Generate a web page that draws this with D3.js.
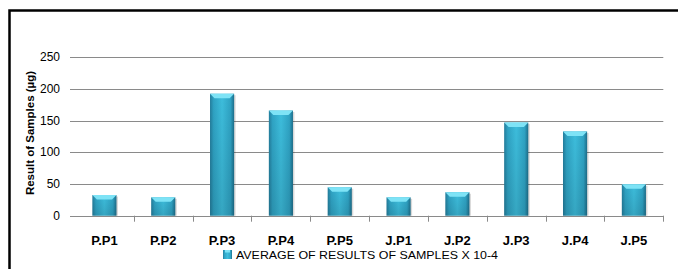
<!DOCTYPE html>
<html>
<head>
<meta charset="utf-8">
<script src="https://cdn.jsdelivr.net/npm/d3@7"></script>
<style>
  body { margin: 0; background: #fff; }
  text { font-family: "Liberation Sans", Arial, sans-serif; fill: #000; }
</style>
</head>
<body>
<div id="chart"></div>
<script>
// data
let categories = ["P.P1", "P.P2", "P.P3", "P.P4", "P.P5", "J.P1", "J.P2", "J.P3", "J.P4", "J.P5"];
let values = [32.6, 29, 192.5, 166, 44.8, 29, 37, 147, 133, 49.5];
let yTicks = [0, 50, 100, 150, 200, 250];
let seriesName = "AVERAGE OF RESULTS OF SAMPLES X 10-4";
let yTitle = "Result of Samples (\u00b5g)";

const W = 678, H = 269;

let svg = d3.select("#chart").append("svg")
    .attr("width", W)
    .attr("height", H);

let defs = svg.append("defs");
let grad = defs.append("linearGradient").attr("id", "barGrad")
    .attr("x1", "0").attr("x2", "1").attr("y1", "0").attr("y2", "0");
grad.append("stop").attr("offset", "0").attr("stop-color", "#237d9c");
grad.append("stop").attr("offset", "0.15").attr("stop-color", "#2fa3c4");
grad.append("stop").attr("offset", "0.5").attr("stop-color", "#3dbddc");
grad.append("stop").attr("offset", "0.85").attr("stop-color", "#2fa3c4");
grad.append("stop").attr("offset", "1").attr("stop-color", "#1d6f8c");

let vgrad = defs.append("linearGradient").attr("id", "barShade")
    .attr("x1", "0").attr("x2", "0").attr("y1", "0").attr("y2", "1");
vgrad.append("stop").attr("offset", "0").attr("stop-color", "#000").attr("stop-opacity", 0);
vgrad.append("stop").attr("offset", "1").attr("stop-color", "#000").attr("stop-opacity", 0.12);

// frame
svg.append("rect")
    .attr("x", 9.5).attr("y", 10.5)
    .attr("width", 700).attr("height", 300)
    .attr("fill", "none")
    .attr("stroke", "#000")
    .attr("stroke-width", 2.5);

let x = d3.scaleBand()
    .domain(categories)
    .range([75, 663.3])
    .paddingInner(0.59)
    .paddingOuter(0.295);

let y = d3.scaleLinear()
    .domain([0, 250])
    .range([215.7, 57.3]);

// gridlines
svg.append("g").selectAll("line")
    .data(yTicks)
    .enter().append("line")
    .attr("x1", 70).attr("x2", 663.3)
    .attr("y1", d => Math.round(y(d)) + 0.5)
    .attr("y2", d => Math.round(y(d)) + 0.5)
    .attr("stroke", "#8a8a8a")
    .attr("stroke-width", 1);

// y tick labels
svg.append("g").selectAll("text")
    .data(yTicks)
    .enter().append("text")
    .attr("x", 60)
    .attr("y", d => y(d) + 4)
    .attr("text-anchor", "end")
    .attr("font-size", "12px")
    .text(d => d);

// category ticks on the x axis
let step = x.step();
let bounds = categories.map((c, i) => x.range()[0] + (i + 1) * step);
svg.append("g").selectAll("line")
    .data(bounds)
    .enter().append("line")
    .attr("x1", d => Math.round(d) + 0.5).attr("x2", d => Math.round(d) + 0.5)
    .attr("y1", y(0)).attr("y2", y(0) + 6)
    .attr("stroke", "#8a8a8a");

// bars
let bars = svg.append("g").selectAll("g.bar")
    .data(categories.map((c, i) => ({cat: c, val: values[i]})))
    .enter().append("g").attr("class", "bar");

bars.append("rect")
    .attr("x", d => x(d.cat) + 1.5)
    .attr("y", d => y(d.val) + 1.5)
    .attr("width", x.bandwidth())
    .attr("height", d => y(0) - y(d.val) - 1.5)
    .attr("fill", "#000")
    .attr("opacity", 0.15);

bars.append("rect")
    .attr("x", d => x(d.cat))
    .attr("y", d => y(d.val))
    .attr("width", x.bandwidth())
    .attr("height", d => y(0) - y(d.val))
    .attr("fill", "url(#barGrad)");

bars.append("rect")
    .attr("x", d => x(d.cat))
    .attr("y", d => y(d.val))
    .attr("width", x.bandwidth())
    .attr("height", d => y(0) - y(d.val))
    .attr("fill", "url(#barShade)");

// top bevel
bars.append("path")
    .attr("d", d => {
        let x0 = x(d.cat), x1 = x0 + x.bandwidth(), t = y(d.val), b = 4.5;
        return "M" + x0 + "," + t + "L" + x1 + "," + t + "L" + (x1 - b) + "," + (t + b)
            + "L" + (x0 + b) + "," + (t + b) + "Z";
    })
    .attr("fill", "#7ee3f6");

// category labels
svg.append("g").selectAll("text")
    .data(categories)
    .enter().append("text")
    .attr("x", d => x(d) + x.bandwidth() / 2)
    .attr("y", 245)
    .attr("text-anchor", "middle")
    .attr("font-size", "13px")
    .attr("font-weight", "bold")
    .text(d => d);

// y-axis title
svg.append("text")
    .attr("transform", "translate(34," + 133 + ") rotate(-90)")
    .attr("text-anchor", "middle")
    .attr("font-size", "11.5px")
    .attr("font-weight", "bold")
    .text(yTitle);

// legend
let legend = svg.append("g");
legend.append("rect")
    .attr("x", 223).attr("y", 250)
    .attr("width", 9).attr("height", 9)
    .attr("fill", "url(#barGrad)");
legend.append("rect")
    .attr("x", 225).attr("y", 250)
    .attr("width", 5).attr("height", 2.5)
    .attr("fill", "#7ee3f6");
legend.append("text")
    .attr("x", 236)
    .attr("y", 258.5)
    .attr("font-size", "11px")
    .attr("textLength", 262)
    .attr("lengthAdjust", "spacingAndGlyphs")
    .text(seriesName);
</script>
</body>
</html>
